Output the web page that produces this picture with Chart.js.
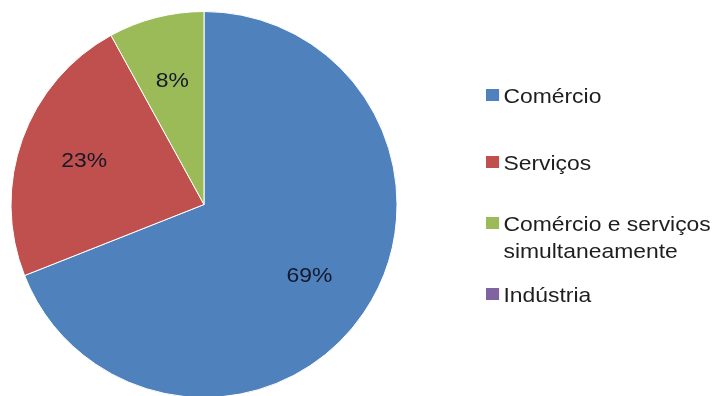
<!DOCTYPE html>
<html>
<head>
<meta charset="utf-8">
<script src="https://cdn.jsdelivr.net/npm/chart.js@4"></script>
<style>
  html, body { margin: 0; padding: 0; background: #fff; overflow: hidden; }
  #wrap { position: relative; width: 715px; height: 396px; overflow: hidden; }
  #chart { position: absolute; left: 0; top: 0; }
  .legend-item {
    position: absolute; left: 486px;
    font-family: "Liberation Sans", Arial, sans-serif; font-size: 21px; line-height: 27px;
    color: #1e1e1e; white-space: nowrap;
    transform: scaleX(1.09); transform-origin: left center;
  }
  .legend-item .box {
    position: absolute; left: 0; top: 7px; width: 12px; height: 12px;
  }
  .legend-item .txt { display: block; margin-left: 16px; }
</style>
</head>
<body>
<div id="wrap">
  <canvas id="chart" width="715" height="400"></canvas>
</div>
<script>
  const labels = ['Comércio', 'Serviços', 'Comércio e serviços\nsimultaneamente', 'Indústria'];
  const values = [69, 23, 8, 0];
  const colors = ['#4F81BD', '#C0504D', '#9BBB59', '#8064A2'];

  // top of each legend entry, px
  const legendTops = [82, 149, 210, 281];

  // percentage labels drawn inside each slice
  const pctLabels = {
    id: 'pctLabels',
    afterDatasetsDraw(chart) {
      const ctx = chart.ctx;
      const meta = chart.getDatasetMeta(0);
      const total = values.reduce((a, b) => a + b, 0);
      ctx.save();
      ctx.font = '21px "Liberation Sans", Arial, sans-serif';
      ctx.fillStyle = '#15182a';
      ctx.textAlign = 'center';
      ctx.textBaseline = 'middle';
      meta.data.forEach((arc, i) => {
        if (!values[i]) return;
        const p = arc.getProps(['x', 'y', 'startAngle', 'endAngle', 'outerRadius']);
        const mid = (p.startAngle + p.endAngle) / 2;
        const r = p.outerRadius * 0.66;
        const x = p.x + Math.cos(mid) * r;
        const y = p.y + Math.sin(mid) * r;
        ctx.save();
        ctx.translate(x, y);
        ctx.scale(1.09, 1);
        ctx.fillText(Math.round(values[i] / total * 100) + '%', 0, 0);
        ctx.restore();
      });
      ctx.restore();
    }
  };

  new Chart(document.getElementById('chart'), {
    type: 'pie',
    data: {
      labels: labels,
      datasets: [{
        data: values,
        backgroundColor: colors,
        borderColor: '#ffffff',
        borderWidth: 1
      }]
    },
    options: {
      responsive: false,
      animation: false,
      layout: { padding: { left: 10, top: 11, right: 317, bottom: 2 } },
      plugins: {
        legend: { display: false },
        tooltip: { enabled: false }
      }
    },
    plugins: [pctLabels]
  });

  // legend on the right
  const wrap = document.getElementById('wrap');
  labels.forEach((name, i) => {
    const item = document.createElement('div');
    item.className = 'legend-item';
    item.style.top = legendTops[i] + 'px';
    const box = document.createElement('span');
    box.className = 'box';
    box.style.background = colors[i];
    const txt = document.createElement('span');
    txt.className = 'txt';
    txt.innerHTML = name.split('\n').join('<br>');
    item.appendChild(box);
    item.appendChild(txt);
    wrap.appendChild(item);
  });
</script>
</body>
</html>
